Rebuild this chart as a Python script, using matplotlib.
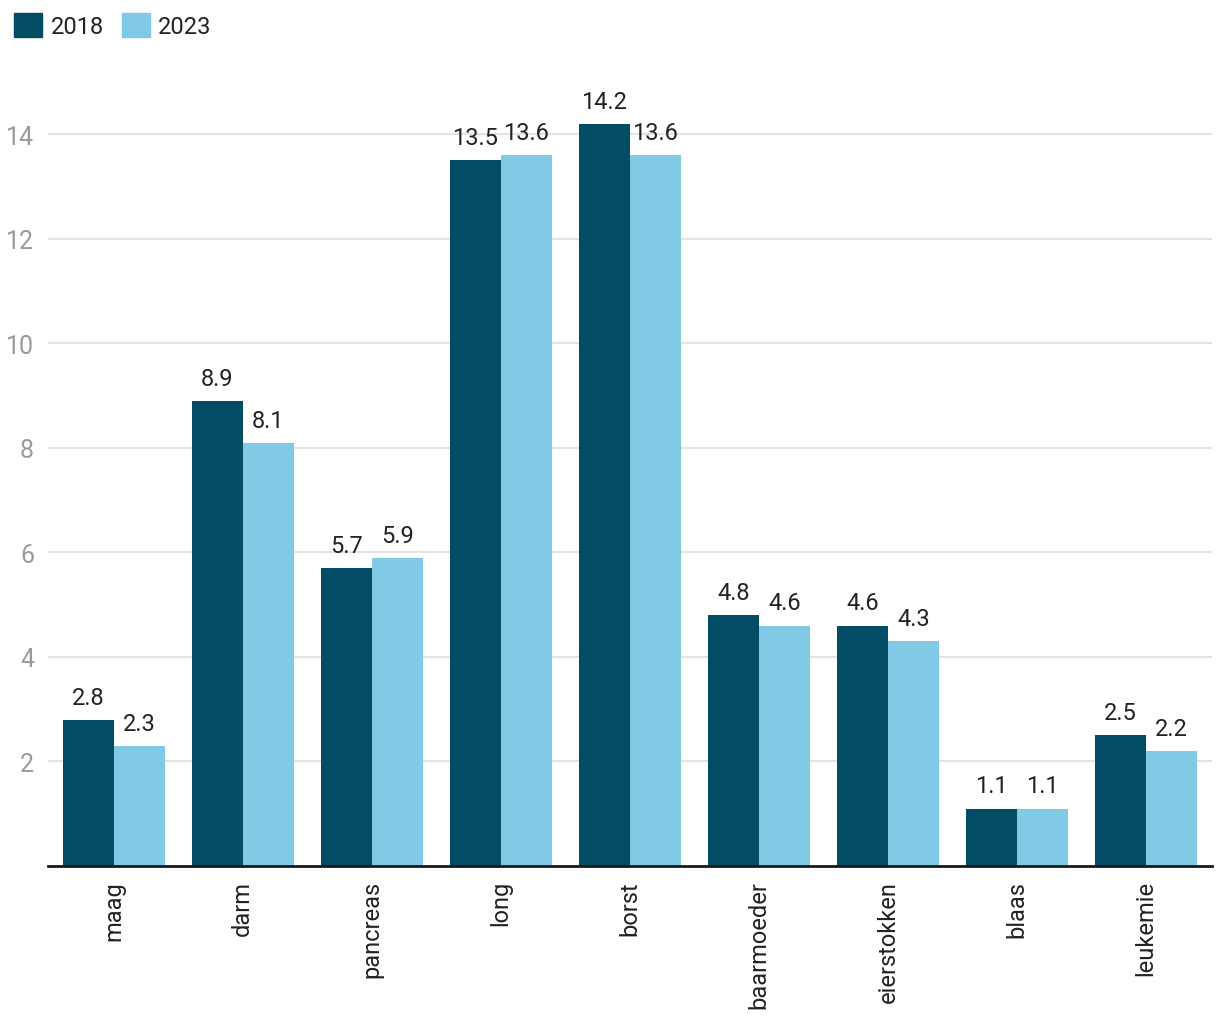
import matplotlib
matplotlib.use("Agg")
import matplotlib.pyplot as plt
import numpy as np
from matplotlib.patches import Patch

categories = ["maag", "darm", "pancreas", "long", "borst", "baarmoeder", "eierstokken", "blaas", "leukemie"]
v2018 = [2.8, 8.9, 5.7, 13.5, 14.2, 4.8, 4.6, 1.1, 2.5]
v2023 = [2.3, 8.1, 5.9, 13.6, 13.6, 4.6, 4.3, 1.1, 2.2]
series_names = ["2018", "2023"]
yticks = [2, 4, 6, 8, 10, 12, 14]

plt.rcParams['font.family'] = ['Roboto', 'DejaVu Sans']

c1 = "#024c66"
c2 = "#80cae5"

fig = plt.figure(figsize=(12.2, 10.2), dpi=100)
ax = fig.add_axes([48/1220, (1020-867)/1020, (1212-48)/1220, (867-70)/1020])

x = np.arange(len(categories))
w = 0.395
b1 = ax.bar(x - w/2, v2018, w, color=c1, label=series_names[0], zorder=3)
b2 = ax.bar(x + w/2, v2023, w, color=c2, label=series_names[1], zorder=3)

for bars in (b1, b2):
    ax.bar_label(bars, labels=[f"{v:.1f}" for v in bars.datavalues], padding=8,
                 fontsize=17, color="#222222")

ax.set_xlim(-0.51, len(categories) - 0.49)
ax.set_ylim(0, 15.25)
ax.set_yticks(yticks)
ax.set_yticklabels([str(t) for t in yticks])
ax.yaxis.grid(True, color="#e3e3e3", linewidth=1.5, zorder=0)
ax.set_axisbelow(True)
ax.tick_params(axis='y', length=0, pad=10, labelsize=18, labelcolor="#9a9a9a")
ax.set_xticks(x)
ax.set_xticklabels(categories, rotation=90, fontsize=17, color="#222222")
ax.tick_params(axis='x', length=0, pad=10)
for s in ["top", "right", "left"]:
    ax.spines[s].set_visible(False)
ax.spines["bottom"].set_color("#1a1a1a")
ax.spines["bottom"].set_linewidth(2)
ax.spines["bottom"].set_zorder(4)

handles = [Patch(color=c1, label=series_names[0]), Patch(color=c2, label=series_names[1])]
fig.legend(handles=handles, loc="upper left", bbox_to_anchor=(0.0, 1.0), ncol=2,
           frameon=False, fontsize=17, handlelength=1.2, handleheight=1.2,
           handletextpad=0.35, columnspacing=0.75, borderaxespad=0.0, borderpad=0.6,
           labelcolor="#222222")

fig.savefig("out.png", dpi=100, facecolor="white")
